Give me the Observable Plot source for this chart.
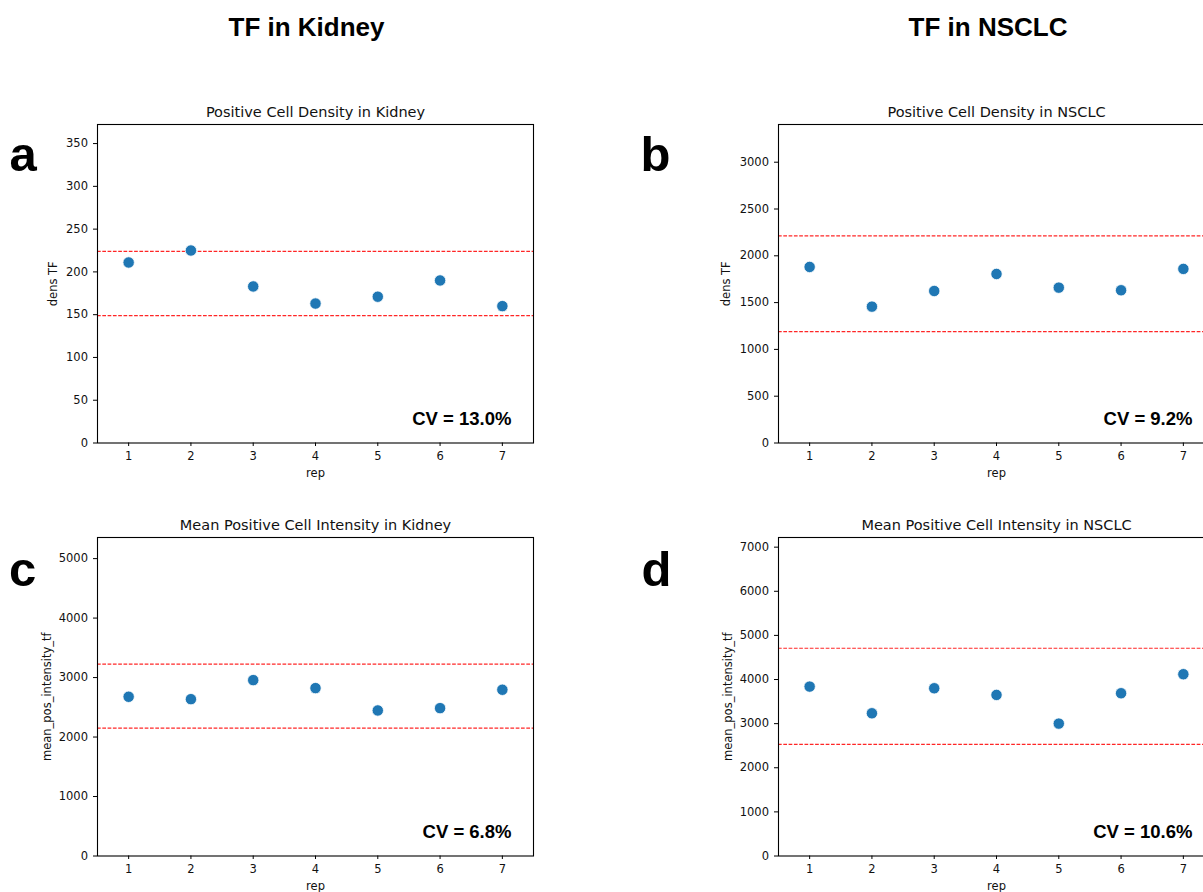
<!DOCTYPE html>
<html>
<head>
<meta charset="utf-8">
<script src="https://cdn.jsdelivr.net/npm/d3@7"></script>
<script src="https://cdn.jsdelivr.net/npm/@observablehq/plot@0.6"></script>
<style>
html, body { margin: 0; padding: 0; background: #fff; overflow: hidden; width: 1203px; height: 892px; }
#page { position: relative; width: 1240px; height: 892px; }
.panel { position: absolute; }
#overlay { position: absolute; left: 0; top: 0; }
</style>
</head>
<body>
<div id="page">
<svg id="overlay" width="1240" height="892">
  <g font-family="'Liberation Sans', Arial, sans-serif" font-weight="bold" fill="#000">
    <text x="306.5" y="36" font-size="26" text-anchor="middle">TF in Kidney</text>
    <text x="988" y="36" font-size="26" text-anchor="middle">TF in NSCLC</text>
    <text x="9.5" y="171" font-size="49">a</text>
    <text x="640.5" y="171" font-size="49">b</text>
    <text x="9" y="586" font-size="49">c</text>
    <text x="641.5" y="586" font-size="49">d</text>
  </g>
</svg>
</div>
<script>
// ---- data ----
const reps = [1, 2, 3, 4, 5, 6, 7];

const densKidney = [211, 225, 183, 163, 171, 190, 160];
const densKidneyLimits = [224, 149];
const densKidneyTicks = [0, 50, 100, 150, 200, 250, 300, 350];

const densNSCLC = [1881, 1457, 1624, 1806, 1660, 1632, 1860];
const densNSCLCLimits = [2212, 1190];
const densNSCLCTicks = [0, 500, 1000, 1500, 2000, 2500, 3000];

const intKidney = [2677, 2637, 2957, 2823, 2447, 2486, 2795];
const intKidneyLimits = [3227, 2149];
const intKidneyTicks = [0, 1000, 2000, 3000, 4000, 5000];

const intNSCLC = [3840, 3235, 3802, 3651, 3001, 3689, 4120];
const intNSCLCLimits = [4709, 2532];
const intNSCLCTicks = [0, 1000, 2000, 3000, 4000, 5000, 6000, 7000];

const titles = [
  "Positive Cell Density in Kidney",
  "Positive Cell Density in NSCLC",
  "Mean Positive Cell Intensity in Kidney",
  "Mean Positive Cell Intensity in NSCLC"
];
const yLabels = ["dens TF", "dens TF", "mean_pos_intensity_tf", "mean_pos_intensity_tf"];
const xLabel = "rep";
const cvTexts = ["CV = 13.0%", "CV = 9.2%", "CV = 6.8%", "CV = 10.6%"];

// ---- layout ----
const FW = 436, FH = 318.5, MT = 40, MB = 50, MR = 12;
const panels = [
  {values: densKidney, limits: densKidneyLimits, ticks: densKidneyTicks, ymax: 372.3, left: 0,   top: 84,  ml: 97,  yOff: 44},
  {values: densNSCLC,  limits: densNSCLCLimits,  ticks: densNSCLCTicks,  ymax: 3403,  left: 640, top: 84,  ml: 138, yOff: 52},
  {values: intKidney,  limits: intKidneyLimits,  ticks: intKidneyTicks,  ymax: 5355,  left: 0,   top: 497, ml: 97,  yOff: 50.5},
  {values: intNSCLC,   limits: intNSCLCLimits,   ticks: intNSCLCTicks,   ymax: 7219,  left: 640, top: 497, ml: 138, yOff: 50}
];

const page = document.getElementById("page");
const sans = "'DejaVu Sans', sans-serif";
const boldSans = "'Liberation Sans', Arial, sans-serif";

panels.forEach((p, k) => {
  const rows = reps.map((r, i) => ({rep: r, value: p.values[i]}));
  const chart = Plot.plot({
    width: p.ml + FW + MR,
    height: MT + FH + MB,
    marginLeft: p.ml,
    marginRight: MR,
    marginTop: MT,
    marginBottom: MB,
    style: {fontFamily: sans, fontSize: "11.5px", color: "#111", background: "transparent", overflow: "visible"},
    x: {domain: [0.5, 7.5]},
    y: {domain: [0, p.ymax]},
    marks: [
      Plot.ruleY(p.limits, {stroke: "red", strokeOpacity: 0.85, strokeWidth: 1.2, strokeDasharray: "3.7,1.6"}),
      Plot.dot(rows, {x: "rep", y: "value", r: 5.7, fill: "#1f77b4", stroke: "white", strokeWidth: 0.8}),
      Plot.axisX(reps, {tickSize: 3.5, tickPadding: 5, tickFormat: d => String(d), label: null, stroke: "#000"}),
      Plot.axisY(p.ticks, {tickSize: 4, tickPadding: 5.5, tickFormat: d => String(d), label: null, stroke: "#000"}),
      Plot.frame({stroke: "#000", strokeWidth: 1.1}),
      Plot.text([titles[k]], {text: d => d, frameAnchor: "top", dy: -12.5, fontSize: 14.5, lineAnchor: "middle", fill: "#111"}),
      Plot.text([xLabel], {text: d => d, frameAnchor: "bottom", dy: 30, fontSize: 11.5, lineAnchor: "middle", fill: "#111"}),
      Plot.text([yLabels[k]], {text: d => d, frameAnchor: "left", dx: -p.yOff, rotate: -90, fontSize: 11.5, lineAnchor: "middle", textAnchor: "middle", fill: "#111"}),
      Plot.text([cvTexts[k]], {text: d => d, frameAnchor: "bottom-right", dx: -22, dy: -24.4, textAnchor: "end", lineAnchor: "middle", fontSize: 18.5, fontWeight: "bold", fontFamily: boldSans, fill: "#000"})
    ]
  });
  chart.classList.add("panel");
  chart.style.left = p.left + "px";
  chart.style.top = p.top + "px";
  page.appendChild(chart);
});
</script>
</body>
</html>
